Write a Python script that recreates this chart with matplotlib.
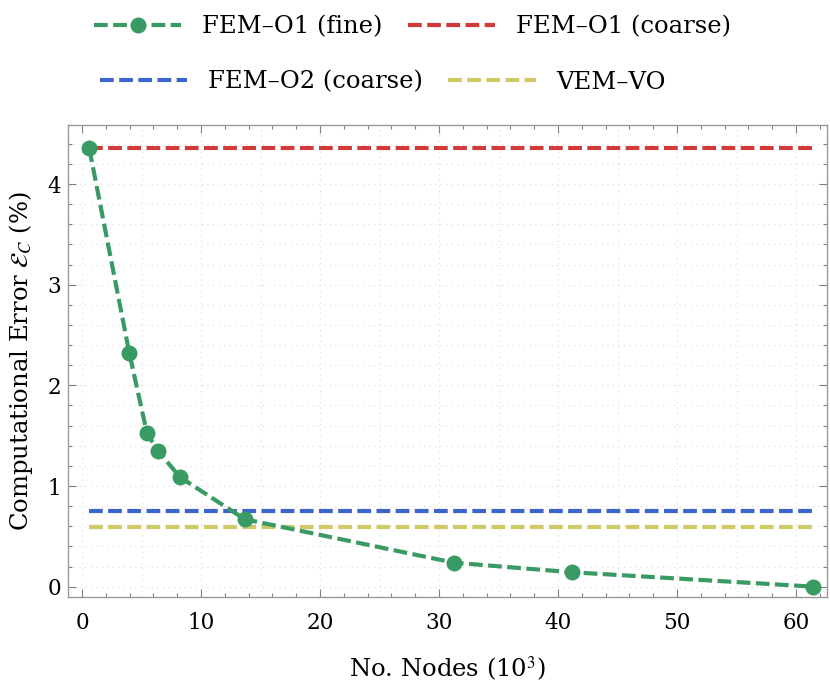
import numpy as np
import matplotlib.pyplot as plt
from matplotlib.ticker import MultipleLocator

plt.rcParams['font.family'] = ['DejaVu Serif']
plt.rcParams['mathtext.fontset'] = 'stix'

#---Data
nodes = [0.61, 3.97, 5.46, 6.38, 8.25, 13.69, 31.26, 41.17, 61.46]      # 10^3 nodes
err_fine = [4.354, 2.324, 1.523, 1.348, 1.086, 0.669, 0.238, 0.143, 0.0]
err_o1_coarse = 4.354
err_o2_coarse = 0.752
err_vem = 0.596

labels = ['FEM–O1 (fine)', 'FEM–O1 (coarse)', 'FEM–O2 (coarse)', 'VEM–VO']
colors = ['#3a9a64', '#d13a3a', '#3a66cc', '#cfca66']

#---Figure
fig = plt.figure(figsize=(8.3, 6.9), dpi=100)
ax = fig.add_axes([0.0819, 0.1352, 0.9145, 0.6841])

lw = 3.0
dash = (3.3, 1.3)

#---light dotted grid
for gx in np.arange(0, 61, 5):
    ax.axvline(gx, color='#dcdcdc', lw=0.8, ls=(0, (1, 4)), zorder=0)
for gy in np.arange(0, 4.5, 0.2):
    ax.axhline(gy, color='#dcdcdc', lw=0.8, ls=(0, (1, 4)), zorder=0)

xs = [nodes[0], nodes[-1]]
l_o1, = ax.plot(xs, [err_o1_coarse] * 2, color=colors[1], lw=lw, dashes=dash, zorder=2)
l_o2, = ax.plot(xs, [err_o2_coarse] * 2, color=colors[2], lw=lw, dashes=dash, zorder=2)
l_vem, = ax.plot(xs, [err_vem] * 2, color=colors[3], lw=lw, dashes=dash, zorder=2)
l_fine, = ax.plot(nodes, err_fine, color=colors[0], lw=lw, dashes=dash, marker='o',
                  markersize=11.5, markeredgewidth=0, zorder=3)

ax.set_xlim(-1.18, 62.6)
ax.set_ylim(-0.1, 4.59)
ax.xaxis.set_major_locator(MultipleLocator(10))
ax.xaxis.set_minor_locator(MultipleLocator(2))
ax.yaxis.set_major_locator(MultipleLocator(1))
ax.yaxis.set_minor_locator(MultipleLocator(0.2))

ax.tick_params(which='both', direction='in', top=True, right=True, color='#808080',
               width=0.8, labelsize=15.5)
ax.tick_params(which='major', length=5.8)
ax.tick_params(which='minor', length=3.2)
ax.tick_params(axis='x', pad=11)
ax.tick_params(axis='y', pad=5)
for s in ax.spines.values():
    s.set_color('#999999')
    s.set_linewidth(1.0)

ax.set_xlabel('No. Nodes (10$^3$)', fontsize=17.5, labelpad=15)
ax.set_ylabel(r'Computational Error $\mathcal{E}_C$ (%)', fontsize=17.5, labelpad=9)

#---legend: two independent rows, like the original
leg_kw = dict(ncol=2, loc='center', frameon=False, handlelength=3.6, handletextpad=0.85,
              columnspacing=1.05, fontsize=17.5, borderpad=0, borderaxespad=0)
fig.legend([l_fine, l_o1], labels[:2], bbox_to_anchor=(0.497, 0.961), **leg_kw)
fig.legend([l_o2, l_vem], labels[2:], bbox_to_anchor=(0.461, 0.881), **leg_kw)

fig.savefig('out.png', dpi=100)
